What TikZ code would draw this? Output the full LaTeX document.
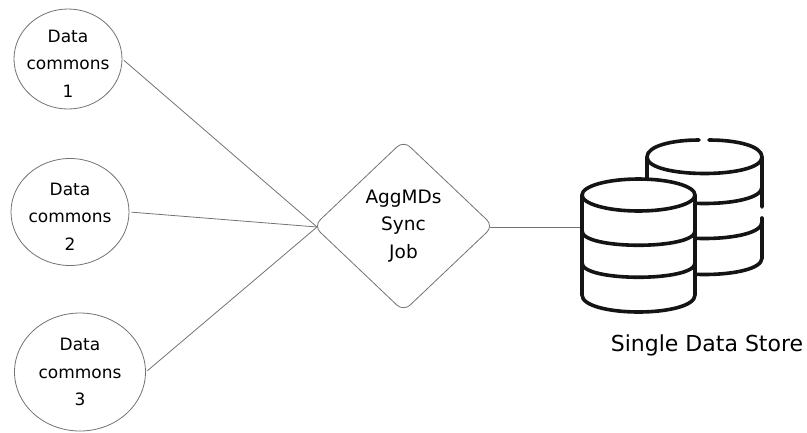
\documentclass[tikz,border=0pt]{standalone}
\usepackage{fontspec}
\setmainfont{DejaVu Sans}
\usetikzlibrary{shapes.geometric}
\colorlet{line edge}{black!55}
\colorlet{store edge}{black!92}
\def\frontband#1{(582,#1) .. controls (582,#1+19) and (695,#1+19) .. (695,#1)}
\def\backband#1{(647,#1) .. controls (647,#1+22) and (762,#1+22) .. (762,#1)}
\def\datahead{\rule{0pt}{21pt}Data}
\tikzset{x=1pt,y=-1pt,
	commons/.style={ellipse, draw=line edge, line width=0.8pt, fill=white, inner sep=-15pt, align=center,
		font=\fontsize{17}{27.5}\selectfont},
	job/.style={diamond, draw=line edge, line width=0.8pt, fill=white, inner sep=0pt, rounded corners=9pt, aspect=1.05,
		minimum width=180pt, minimum height=171pt, align=center,
		font=\fontsize{18.5}{27.5}\selectfont},
	link/.style={draw=line edge, line width=0.8pt, shorten <=2pt},
	storeline/.style={draw=store edge, line width=3.6pt, line cap=round, line join=round}}

\begin{document}
\begin{tikzpicture}
		\useasboundingbox (0,0) rectangle (807,432);
		
		\node[commons, minimum width=108pt, minimum height=100pt] (dc1) at (68,59) {\datahead\\commons\\1};
		\node[commons, minimum width=118pt, minimum height=107pt] (dc2) at (70,212) {\datahead\\commons\\2};
		\node[commons, minimum width=131pt, minimum height=118pt] (dc3) at (80,372) {Data\\commons\\3};
		\node[job] (sync) at (403.5,226) {AggMDs\\Sync\\Job};
		\coordinate (syncin) at (317,227);
		\coordinate (syncout) at (490,227);
		\coordinate (storein) at (580,227);
		
		\draw[link] (dc1.east) -- (syncin);
		\draw[link] (dc2.east) -- (syncin);
		\draw[link] (dc3.east) -- (syncin);
		\draw[link, shorten <=0pt] (syncout) -- (storein);
		
		% back cylinder
		\begin{scope}
		\draw[storeline] (647,178) -- (647,157) .. controls (647,146) and (672,140) .. (699,140);
		\draw[storeline] (709,140) .. controls (737,140) and (762,146) .. (762,157) -- (762,207);
		\draw[storeline] (762,218) -- (762,258);
		\draw[storeline] \backband{157};
		\draw[storeline] \backband{187};
		\draw[storeline] \backband{222};
		\draw[storeline] \backband{258};
		\end{scope}
		
		% front cylinder
		\fill[white] (582,195) rectangle (695,300);
		\draw[storeline, fill=white] (582,195) -- (582,295) .. controls (582,306) and (610,312) .. (638.5,312)
			.. controls (667,312) and (695,306) .. (695,295) -- (695,195);
		\draw[storeline, fill=white] (638.5,195) ellipse [x radius=56.5pt, y radius=16pt];
		\draw[storeline] \frontband{231};
		\draw[storeline] \frontband{263};
		
		\node[font=\fontsize{22}{23}\selectfont, inner sep=0pt] (storename) at (707,345) {Single Data Store};
		
		\end{tikzpicture}
\end{document}
